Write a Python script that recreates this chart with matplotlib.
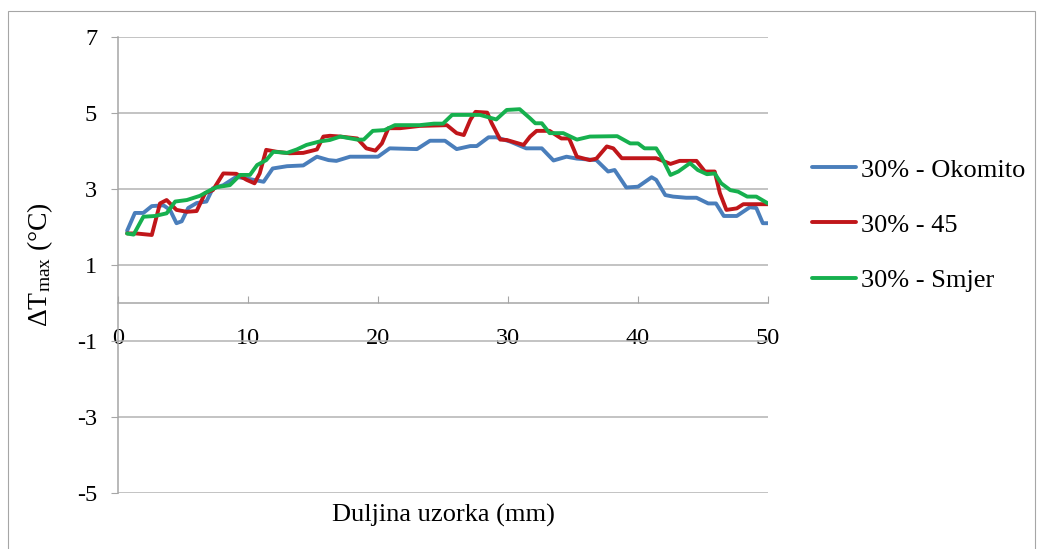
import matplotlib
matplotlib.use("Agg")
import matplotlib.pyplot as plt
from matplotlib.patches import Rectangle

plt.rcParams["font.family"] = ["Liberation Serif", "DejaVu Serif"]
plt.rcParams["axes.unicode_minus"] = False
plt.rcParams["mathtext.default"] = "regular"

# 30% - Okomito
x_okomito = [0.7, 1.3, 1.95, 2.6, 3.5, 4.0, 4.5, 4.9, 5.4, 6.05, 6.8, 7.3, 8.1, 9.1, 10.15, 11.2,
             11.9, 13.0, 14.25, 15.3, 16.2, 16.8, 17.85, 20.0, 20.9, 23.0, 24.0, 25.15, 26.05, 27.1,
             27.6, 28.5, 29.1, 30.15, 31.4, 32.6, 33.5, 34.5, 35.3, 36.8, 37.7, 38.2, 39.1, 40.0,
             41.05, 41.4, 42.1, 42.7, 43.7, 44.5, 45.4, 46.0, 46.6, 47.6, 48.6, 49.1, 49.6, 50.0]
y_okomito = [1.9, 2.37, 2.37, 2.55, 2.57, 2.45, 2.1, 2.15, 2.5, 2.63, 2.67, 3.02, 3.1, 3.32, 3.26, 3.19,
             3.54, 3.6, 3.62, 3.85, 3.76, 3.74, 3.85, 3.85, 4.07, 4.05, 4.27, 4.27, 4.05, 4.13,
             4.13, 4.36, 4.36, 4.25, 4.07, 4.07, 3.75, 3.85, 3.8, 3.76, 3.46, 3.5, 3.04, 3.06,
             3.31, 3.24, 2.84, 2.8, 2.77, 2.77, 2.62, 2.62, 2.29, 2.29, 2.52, 2.5, 2.1, 2.1]

# 30% - 45
x_45 = [0.7, 1.4, 2.6, 3.23, 3.74, 4.5, 5.3, 6.05, 6.7, 7.3, 8.1, 9.1, 9.9, 10.5, 10.9, 11.4,
        12.2, 13.2, 14.25, 15.3, 15.8, 16.3, 17.1, 18.4, 19.1, 19.8, 20.3, 20.8, 21.7, 23.2,
        25.3, 26.05, 26.6, 27.1, 27.5, 28.4, 28.75, 29.4, 29.9, 31.2, 31.7, 32.2, 33.2, 34.1,
        34.7, 35.3, 36.3, 36.8, 37.6, 38.1, 38.75, 39.9, 41.4, 42.5, 43.2, 44.5, 45.15, 45.9,
        46.3, 46.8, 47.6, 48.1, 49.6, 50.0]
y_45 = [1.83, 1.83, 1.79, 2.62, 2.71, 2.45, 2.4, 2.42, 2.89, 2.97, 3.41, 3.4, 3.24, 3.15, 3.41, 4.03,
        3.98, 3.94, 3.95, 4.04, 4.38, 4.4, 4.38, 4.33, 4.07, 4.01, 4.2, 4.6, 4.6, 4.66,
        4.68, 4.47, 4.42, 4.82, 5.03, 5.01, 4.73, 4.3, 4.29, 4.16, 4.38, 4.53, 4.53, 4.33,
        4.33, 3.85, 3.76, 3.8, 4.12, 4.07, 3.81, 3.81, 3.81, 3.66, 3.74, 3.74, 3.46, 3.46,
        2.89, 2.45, 2.49, 2.6, 2.6, 2.6]

# 30% - Smjer
x_smjer = [0.7, 1.2, 1.95, 2.85, 3.74, 4.4, 5.3, 6.3, 7.1, 7.6, 8.6, 9.4, 10.15, 10.7, 11.4, 11.95,
           13.0, 13.75, 14.5, 15.5, 16.3, 17.1, 18.4, 18.9, 19.6, 20.5, 21.3, 23.2, 24.3, 25.0,
           25.7, 26.6, 27.85, 29.1, 29.9, 30.9, 31.7, 32.1, 32.6, 33.2, 34.25, 35.3, 36.3, 38.4,
           39.4, 40.0, 40.5, 41.4, 41.8, 42.5, 43.1, 44.0, 44.6, 45.3, 45.9, 46.4, 47.1, 47.7,
           48.4, 49.1, 50.0]
y_smjer = [1.83, 1.8, 2.27, 2.29, 2.36, 2.67, 2.71, 2.82, 2.97, 3.05, 3.1, 3.37, 3.37, 3.63, 3.76, 3.98,
           3.95, 4.04, 4.16, 4.25, 4.29, 4.38, 4.3, 4.3, 4.53, 4.55, 4.68, 4.68, 4.72, 4.72,
           4.95, 4.95, 4.95, 4.83, 5.08, 5.1, 4.86, 4.73, 4.73, 4.47, 4.47, 4.3, 4.38, 4.39,
           4.2, 4.2, 4.07, 4.07, 3.85, 3.37, 3.46, 3.68, 3.5, 3.39, 3.41, 3.15, 2.97, 2.93,
           2.8, 2.8, 2.62]

labels = ["30% - Okomito", "30% - 45", "30% - Smjer"]
colors = ["#4a7ebb", "#c0161a", "#16b04e"]

W, H = 1041, 549
fig = plt.figure(figsize=(W / 100, H / 100), dpi=100)
fig.patches.append(Rectangle((8 / W, -0.05), 1027 / W, 1 - 11 / H + 0.05, transform=fig.transFigure,
                             fill=False, edgecolor="#a6a6a6", linewidth=0.8))

ax = fig.add_axes([118 / W, 1 - 493 / H, 650 / W, 456 / H])

for xs, ys, lab, c in zip([x_okomito, x_45, x_smjer], [y_okomito, y_45, y_smjer], labels, colors):
    ax.plot(xs, ys, color=c, linewidth=2.8, label=lab, solid_joinstyle="round", solid_capstyle="round")

ax.set_xlim(0, 50)
ax.set_ylim(-5, 7)
ax.set_xticks([0, 10, 20, 30, 40, 50])
ax.set_yticks([7, 5, 3, 1, -1, -3, -5])
ax.grid(axis="y", color="#b3b3b3", linewidth=1.1)
ax.set_axisbelow(True)

for s in ["top", "right"]:
    ax.spines[s].set_visible(False)
ax.spines["bottom"].set_position(("data", 0))
ax.spines["bottom"].set_color("#a6a6a6")
ax.spines["left"].set_color("#a6a6a6")
ax.spines["bottom"].set_linewidth(1.1)
ax.spines["left"].set_linewidth(1.1)

ax.tick_params(axis="x", direction="in", length=5, color="#a6a6a6", pad=18, labelsize=17.5)
ax.tick_params(axis="y", direction="out", length=5, color="#a6a6a6", pad=10, labelsize=17.5)

fig.text(40 / W, 1 - 265 / H, r"$\Delta T_{max}$ (°C)", rotation=90, ha="center", va="center",
         fontsize=20)
fig.text(443 / W, 1 - 515 / H, "Duljina uzorka (mm)", ha="center", va="center", fontsize=19)

fig.legend(loc="center left", bbox_to_anchor=(812 / W, 1 - 225 / H), frameon=False, fontsize=19,
           borderaxespad=0, borderpad=0, handlelength=1.65, handletextpad=0.2, labelspacing=1.2)

fig.savefig("out.png", dpi=100)
